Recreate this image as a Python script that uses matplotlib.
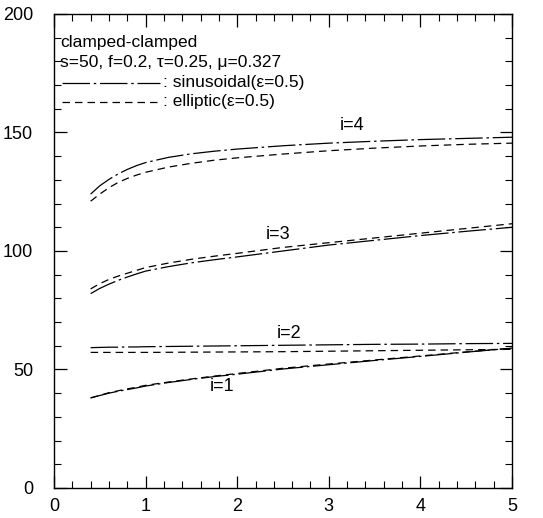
import numpy as np
import matplotlib
matplotlib.use("Agg")
import matplotlib.pyplot as plt
from matplotlib.ticker import MultipleLocator

plt.rcParams['font.family'] = ['Liberation Sans', 'DejaVu Sans']

# values
x = [0.4, 0.5, 0.6, 0.7, 0.8, 0.9, 1.0, 1.25, 1.5, 1.75, 2.0, 2.5, 3.0, 3.5, 4.0, 4.5, 5.0]

sin1 = [38, 39, 40, 40.8, 41.5, 42.2, 43, 44.5, 45.8, 47, 48, 50.2, 52, 53.8, 55.5, 57.3, 59]
ell1 = [38, 39.1, 40.2, 41, 41.8, 42.5, 43.3, 44.7, 46, 47.2, 48.3, 50.5, 52.3, 54, 55.7, 57.4, 59]
sin2 = [59.2, 59.3, 59.4, 59.4, 59.5, 59.5, 59.6, 59.7, 59.8, 59.9, 60, 60.2, 60.4, 60.6, 60.7, 60.9, 61]
ell2 = [57.2, 57.2, 57.2, 57.2, 57.2, 57.2, 57.2, 57.25, 57.3, 57.35, 57.4, 57.5, 57.7, 57.9, 58.1, 58.3, 58.5]
sin3 = [82, 84.2, 86, 87.6, 89, 90.3, 91.5, 93.4, 95, 96.3, 97.5, 100, 102.5, 104.5, 106.5, 108.3, 110]
ell3 = [84, 86.2, 88, 89.4, 90.6, 91.8, 93, 94.9, 96.5, 97.8, 99, 101.5, 103.5, 105.5, 107.5, 109.5, 111.5]
sin4 = [124, 127.5, 130.2, 132.5, 134.4, 136, 137.3, 139.5, 141, 142.1, 143, 144.4, 145.5, 146.3, 147, 147.5, 148]
ell4 = [121, 124, 126.7, 128.9, 130.6, 132, 133.2, 135.4, 137, 138.3, 139.3, 140.9, 142.3, 143.4, 144.3, 145, 145.5]

sin_style = (0, (22, 3, 2, 3))
ell_style = (0, (6, 4))

fig = plt.figure(figsize=(5.43, 5.18), dpi=100)
ax = fig.add_axes([0.0994, 0.058, 0.8436, 0.915])

for s in [sin1, sin2, sin3, sin4]:
    ax.plot(x, s, color='black', lw=0.9, linestyle=sin_style)
for e in [ell1, ell2, ell3, ell4]:
    ax.plot(x, e, color='black', lw=0.9, linestyle=ell_style)

ax.text(3.25, 149.3, 'i=4', fontsize=13, ha='center', va='bottom')
ax.text(2.45, 103.3, 'i=3', fontsize=13, ha='center', va='bottom')
ax.text(2.57, 61.5, 'i=2', fontsize=13, ha='center', va='bottom')
ax.text(1.83, 46.3, 'i=1', fontsize=13, ha='center', va='top')

# annotation block
ax.text(0.07, 188, 'clamped-clamped', fontsize=12.5, va='center')
ax.text(0.07, 179.5, 's=50, f=0.2, \u03c4=0.25, \u03bc=0.327', fontsize=12.5, va='center')
ax.plot([0.09, 1.16], [171, 171], color='black', lw=0.9, linestyle=sin_style)
ax.text(1.19, 171, ': sinusoidal(\u03b5=0.5)', fontsize=12.5, va='center')
ax.plot([0.09, 1.16], [163, 163], color='black', lw=0.9, linestyle=ell_style)
ax.text(1.19, 163, ': elliptic(\u03b5=0.5)', fontsize=12.5, va='center')

ax.set_xlim(0, 5)
ax.set_ylim(0, 200)
ax.xaxis.set_major_locator(MultipleLocator(1))
ax.xaxis.set_minor_locator(MultipleLocator(0.2))
ax.yaxis.set_major_locator(MultipleLocator(50))
ax.yaxis.set_minor_locator(MultipleLocator(10))
ax.tick_params(which='both', direction='in', top=True, right=True, labelsize=13)
ax.tick_params(which='major', length=9, width=0.9)
ax.tick_params(which='minor', length=5, width=0.8)
ax.tick_params(axis='y', which='major', pad=15)
ax.tick_params(axis='x', which='major', pad=7)
for sp in ax.spines.values():
    sp.set_linewidth(1.0)

fig.savefig('out.png', dpi=100)
